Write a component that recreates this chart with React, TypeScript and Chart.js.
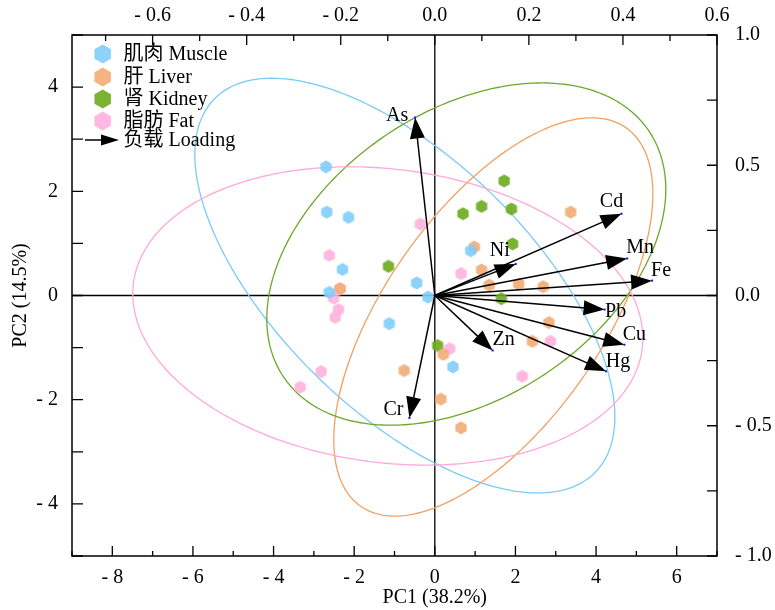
import React, { useEffect, useRef } from 'react';
import { Chart, registerables } from 'chart.js';
Chart.register(...registerables);

// ---- PCA scores (PC1, PC2) ----
const muscleX = [-2.70, -2.68, -2.14, -2.29, -0.45, -2.62, -0.17, -1.13, 0.45, 0.89];
const muscleY = [2.47, 1.60, 1.50, 0.50, 0.24, 0.06, -0.03, -0.54, -1.37, 0.86];
const liverX = [3.37, 0.98, 1.16, 1.35, 2.08, 2.69, 2.83, 2.42, 0.21, -0.76, 0.15, 0.65, -2.35];
const liverY = [1.60, 0.93, 0.49, 0.20, 0.22, 0.17, -0.52, -0.88, -1.13, -1.44, -1.99, -2.54, 0.13];
const kidneyX = [1.72, 1.16, 0.70, 1.90, 1.93, -1.15, 1.65, 0.07];
const kidneyY = [2.20, 1.71, 1.57, 1.66, 0.99, 0.56, -0.06, -0.96];
const fatX = [-0.36, -2.62, -2.51, -2.39, -2.47, 0.37, 2.87, 2.17, -2.82, -3.34, 0.65, -2.35];
const fatY = [1.37, 0.77, -0.05, -0.27, -0.42, -1.02, -0.88, -1.55, -1.46, -1.76, 0.42, 0.13];

// ---- Loadings ----
const elements = ['Cd', 'Mn', 'Fe', 'Pb', 'Cu', 'Hg', 'Zn', 'Ni', 'As', 'Cr'];
const loadPC1 = [0.397, 0.409, 0.462, 0.361, 0.403, 0.364, 0.123, 0.172, -0.042, -0.054];
const loadPC2 = [0.314, 0.142, 0.057, -0.054, -0.189, -0.291, -0.211, 0.121, 0.683, -0.470];

// ---- Confidence ellipses (order: Muscle, Liver, Kidney, Fat) ----
const ellCX = [-0.744, 1.451, 0.781, -1.166];
const ellCY = [0.19, -0.412, 0.795, -0.393];
const ellSXX = [27.14, 15.66, 24.49, 40.02];
const ellSYY = [15.84, 14.61, 10.79, 8.20];
const ellSXY = [-13.13, 9.34, 6.153, -2.70];

// ---- Legend / axes text ----
const legendLabels = ['肌肉 Muscle', '肝 Liver', '肾 Kidney', '脂肪 Fat'];
const loadingLabel = '负载 Loading';
const xTitle = 'PC1 (38.2%)';
const yTitle = 'PC2 (14.5%)';
const xTickLabels = [-8, -6, -4, -2, 0, 2, 4, 6];
const yTickLabels = [-4, -2, 0, 2, 4];
const x2TickLabels = [-0.6, -0.4, -0.2, 0, 0.2, 0.4, 0.6];
const y2TickLabels = [-1, -0.5, 0, 0.5, 1];

const FONT = "'Liberation Serif', 'Times New Roman', 'Noto Sans CJK SC', serif";
const FILL = ['rgba(128,205,250,0.9)', 'rgba(243,172,116,0.9)', 'rgba(108,170,30,0.9)', 'rgba(255,177,222,0.9)'];
const LINE = ['#7ACBF8', '#F2A062', '#6EA82A', '#FFA8DC'];
const LABEL_OFF: Record<string, [number, number]> = {
  Cd: [-10, -12], Mn: [13, -11], Fe: [9, -10], Pb: [11, 2], Cu: [10, -10],
  Hg: [12, -10], Zn: [11, -11], Ni: [-16, -13], As: [-18, -2], Cr: [-16, -8],
};

function pathHex(ctx: CanvasRenderingContext2D, cx: number, cy: number, r: number) {
  ctx.beginPath();
  for (let i = 0; i < 6; i++) {
    const a = Math.PI / 2 + (i * Math.PI) / 3;
    const x = cx + r * Math.cos(a);
    const y = cy - r * Math.sin(a);
    if (i === 0) ctx.moveTo(x, y); else ctx.lineTo(x, y);
  }
  ctx.closePath();
}

function hexCanvas(color: string, r: number) {
  const size = 14;
  const c = document.createElement('canvas');
  c.width = size; c.height = size;
  const ctx = c.getContext('2d')!;
  pathHex(ctx, size / 2, size / 2, r);
  ctx.fillStyle = color;
  ctx.fill();
  return c;
}

function fmt(v: number, dec: number) {
  const s = Math.abs(v).toFixed(dec);
  return v < -1e-9 ? '- ' + s : s;
}

function has(arr: number[], v: number) {
  return arr.some((a) => Math.abs(a - v) < 1e-6);
}

function drawArrow(ctx: CanvasRenderingContext2D, x0: number, y0: number, x1: number, y1: number, L: number, W: number) {
  const dx = x1 - x0, dy = y1 - y0;
  const len = Math.hypot(dx, dy);
  const ux = dx / len, uy = dy / len;
  const bx = x1 - L * ux, by = y1 - L * uy;
  ctx.beginPath();
  ctx.moveTo(x0, y0);
  ctx.lineTo(bx + ux * 2, by + uy * 2);
  ctx.stroke();
  ctx.beginPath();
  ctx.moveTo(x1, y1);
  ctx.lineTo(bx - W * uy, by + W * ux);
  ctx.lineTo(bx + W * uy, by - W * ux);
  ctx.closePath();
  ctx.fill();
}

const biplotPlugin = {
  id: 'biplot',
  beforeDatasetsDraw(chart: any) {
    const { ctx, chartArea: a, scales } = chart;
    const x = scales.x, y = scales.y;
    ctx.save();
    ctx.beginPath();
    ctx.rect(a.left, a.top, a.right - a.left, a.bottom - a.top);
    ctx.clip();
    // zero lines
    ctx.strokeStyle = '#000';
    ctx.lineWidth = 1.3;
    const x0 = x.getPixelForValue(0), y0 = y.getPixelForValue(0);
    ctx.beginPath();
    ctx.moveTo(x0, a.top); ctx.lineTo(x0, a.bottom);
    ctx.moveTo(a.left, y0); ctx.lineTo(a.right, y0);
    ctx.stroke();
    // ellipses
    ctx.lineWidth = 1.3;
    for (let k = 0; k < ellCX.length; k++) {
      const l11 = Math.sqrt(ellSXX[k]);
      const l21 = ellSXY[k] / l11;
      const l22 = Math.sqrt(ellSYY[k] - l21 * l21);
      ctx.beginPath();
      for (let i = 0; i <= 360; i++) {
        const t = (i * Math.PI) / 180;
        const vx = ellCX[k] + l11 * Math.cos(t);
        const vy = ellCY[k] + l21 * Math.cos(t) + l22 * Math.sin(t);
        const px = x.getPixelForValue(vx), py = y.getPixelForValue(vy);
        if (i === 0) ctx.moveTo(px, py); else ctx.lineTo(px, py);
      }
      ctx.closePath();
      ctx.strokeStyle = LINE[k];
      ctx.stroke();
    }
    ctx.restore();
  },
  afterDatasetsDraw(chart: any) {
    const { ctx, scales } = chart;
    const x2 = scales.x2, y2 = scales.y2;
    const ox = x2.getPixelForValue(0), oy = y2.getPixelForValue(0);
    const meta = chart.getDatasetMeta(4);
    ctx.save();
    ctx.strokeStyle = '#000';
    ctx.fillStyle = '#000';
    ctx.lineWidth = 1.5;
    meta.data.forEach((pt: any, i: number) => {
      drawArrow(ctx, ox, oy, pt.x, pt.y, 21, 7.5);
    });
    ctx.font = `20px ${FONT}`;
    ctx.textAlign = 'center';
    ctx.textBaseline = 'middle';
    meta.data.forEach((pt: any, i: number) => {
      const off = LABEL_OFF[elements[i]] || [0, 0];
      ctx.fillText(elements[i], pt.x + off[0], pt.y + off[1]);
    });
    // tiny tip marks
    ctx.fillStyle = '#1010ff';
    meta.data.forEach((pt: any) => { ctx.fillRect(pt.x - 1, pt.y - 1, 2, 2); });
    ctx.restore();
  },
  afterDraw(chart: any) {
    const { ctx, chartArea: a, scales } = chart;
    const { x, y, x2, y2 } = scales;
    ctx.save();
    // frame
    ctx.strokeStyle = '#000';
    ctx.lineWidth = 1.5;
    ctx.strokeRect(a.left, a.top, a.right - a.left, a.bottom - a.top);
    // ticks
    ctx.lineWidth = 1.3;
    ctx.beginPath();
    x.ticks.forEach((t: any) => {
      const px = x.getPixelForValue(t.value);
      const len = has(xTickLabels, t.value) ? 10 : 5;
      ctx.moveTo(px, a.bottom); ctx.lineTo(px, a.bottom - len);
    });
    x2.ticks.forEach((t: any) => {
      const px = x2.getPixelForValue(t.value);
      const len = has(x2TickLabels, Math.round(t.value * 10) / 10) ? 10 : 6;
      ctx.moveTo(px, a.top); ctx.lineTo(px, a.top + len);
    });
    y.ticks.forEach((t: any) => {
      const py = y.getPixelForValue(t.value);
      ctx.moveTo(a.left, py); ctx.lineTo(a.left + 11, py);
    });
    y2.ticks.forEach((t: any) => {
      const py = y2.getPixelForValue(t.value);
      ctx.moveTo(a.right, py); ctx.lineTo(a.right - 10, py);
    });
    ctx.stroke();
    // axis titles
    ctx.fillStyle = '#000';
    ctx.font = `20px ${FONT}`;
    ctx.textAlign = 'center';
    ctx.textBaseline = 'middle';
    ctx.fillText(xTitle, x.getPixelForValue(0), 598);
    ctx.save();
    ctx.translate(21, y.getPixelForValue(0));
    ctx.rotate(-Math.PI / 2);
    ctx.fillText(yTitle, 0, 0);
    ctx.restore();
    // legend
    const lx = 102.7;
    const ly = [54, 77, 99, 121];
    ctx.textAlign = 'left';
    for (let i = 0; i < legendLabels.length; i++) {
      pathHex(ctx, lx, ly[i], 9.5);
      ctx.fillStyle = FILL[i];
      ctx.fill();
      ctx.fillStyle = '#000';
      ctx.fillText(legendLabels[i], 123.5, ly[i] + 1);
    }
    ctx.strokeStyle = '#000';
    ctx.fillStyle = '#000';
    ctx.lineWidth = 1.5;
    drawArrow(ctx, 85, 140, 119, 140, 18, 5.5);
    ctx.fillText(loadingLabel, 123.5, 141);
    ctx.restore();
  },
};

export default function App() {
  const ref = useRef<HTMLCanvasElement>(null);
  useEffect(() => {
    const canvas = ref.current!;
    const mk = (xs: number[], ys: number[]) => xs.map((v, i) => ({ x: v, y: ys[i] }));
    const tickFont = { family: FONT, size: 20 };
    const chart = new Chart(canvas, {
      type: 'scatter',
      data: {
        datasets: [
          { label: legendLabels[0], data: mk(muscleX, muscleY), pointStyle: hexCanvas(FILL[0], 6.5), pointRadius: 6, order: 0 },
          { label: legendLabels[1], data: mk(liverX, liverY), pointStyle: hexCanvas(FILL[1], 6.5), pointRadius: 6, order: 1 },
          { label: legendLabels[2], data: mk(kidneyX, kidneyY), pointStyle: hexCanvas(FILL[2], 6.5), pointRadius: 6, order: 3 },
          { label: legendLabels[3], data: mk(fatX, fatY), pointStyle: hexCanvas(FILL[3], 6.5), pointRadius: 6, order: 2 },
          { label: loadingLabel, data: mk(loadPC1, loadPC2), xAxisID: 'x2', yAxisID: 'y2', pointRadius: 0.5, backgroundColor: 'rgba(0,0,0,0)', borderWidth: 0, order: -1 },
        ] as any,
      },
      options: {
        animation: false,
        responsive: false,
        devicePixelRatio: 1,
        layout: { padding: 0 },
        plugins: { legend: { display: false }, tooltip: { enabled: false } },
        events: [],
        scales: {
          x: {
            type: 'linear', position: 'bottom', min: -9, max: 7,
            grid: { display: false, drawTicks: false }, border: { display: false },
            ticks: { stepSize: 1, autoSkip: false, maxRotation: 0, padding: 10, color: '#000', font: tickFont,
              callback: (v: any) => (has(xTickLabels, v) ? fmt(v, 0) : '') },
            afterFit: (s: any) => { s.height = 54; },
          },
          x2: {
            type: 'linear', position: 'top', min: (-0.6 * 9) / 7, max: 0.6,
            grid: { display: false, drawTicks: false }, border: { display: false },
            ticks: { stepSize: 0.1, includeBounds: false, autoSkip: false, maxRotation: 0, padding: 7, color: '#000', font: tickFont,
              callback: (v: any) => { const r = Math.round(v * 10) / 10; return has(x2TickLabels, r) ? fmt(r, 1) : ''; } },
            afterFit: (s: any) => { s.height = 35; },
          },
          y: {
            type: 'linear', position: 'left', min: -5, max: 5,
            grid: { display: false, drawTicks: false }, border: { display: false },
            ticks: { stepSize: 1, autoSkip: false, padding: 14, color: '#000', font: tickFont,
              callback: (v: any) => (has(yTickLabels, v) ? fmt(v, 0) : '') },
            afterFit: (s: any) => { s.width = 72; },
          },
          y2: {
            type: 'linear', position: 'right', min: -1, max: 1,
            grid: { display: false, drawTicks: false }, border: { display: false },
            ticks: { stepSize: 0.25, autoSkip: false, padding: 18, color: '#000', font: tickFont,
              callback: (v: any) => (has(y2TickLabels, v) ? fmt(v, 1) : '') },
            afterFit: (s: any) => { s.width = 58; },
          },
        },
      } as any,
      plugins: [biplotPlugin],
    });
    return () => chart.destroy();
  }, []);
  return (
    <div style={{ position: 'absolute', left: 0, top: 0, width: 775, height: 610, background: '#fff' }}>
      <canvas ref={ref} width={775} height={610} style={{ display: 'block' }} />
    </div>
  );
}
